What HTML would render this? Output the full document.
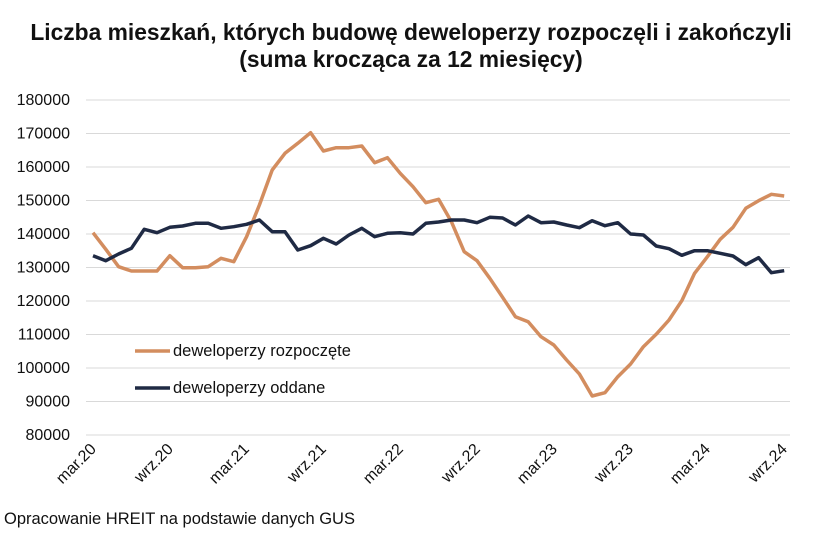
<!DOCTYPE html>
<html><head><meta charset="utf-8"><style>
body{margin:0;background:#fff;}
svg text{font-family:"Liberation Sans",sans-serif;fill:#111;}
</style></head><body>
<svg width="821" height="530" xmlns="http://www.w3.org/2000/svg">
<text x="411" y="40" text-anchor="middle" font-size="22.8" font-weight="bold">Liczba mieszkań, których budowę deweloperzy rozpoczęli i zakończyli</text>
<text x="411" y="67" text-anchor="middle" font-size="22.8" font-weight="bold">(suma krocząca za 12 miesięcy)</text>
<g stroke="#d9d9d9" stroke-width="1">
<line x1="86" x2="790" y1="100" y2="100"/><line x1="86" x2="790" y1="133.5" y2="133.5"/><line x1="86" x2="790" y1="167" y2="167"/><line x1="86" x2="790" y1="200.5" y2="200.5"/><line x1="86" x2="790" y1="234" y2="234"/><line x1="86" x2="790" y1="267.5" y2="267.5"/><line x1="86" x2="790" y1="301" y2="301"/><line x1="86" x2="790" y1="334.5" y2="334.5"/><line x1="86" x2="790" y1="368" y2="368"/><line x1="86" x2="790" y1="401.5" y2="401.5"/><line x1="86" x2="790" y1="435" y2="435"/>
</g>
<g font-size="16" text-anchor="end">
<text x="70" y="105">180000</text><text x="70" y="138.5">170000</text><text x="70" y="172">160000</text><text x="70" y="205.5">150000</text><text x="70" y="239">140000</text><text x="70" y="272.5">130000</text><text x="70" y="306">120000</text><text x="70" y="339.5">110000</text><text x="70" y="373">100000</text><text x="70" y="406.5">90000</text><text x="70" y="440">80000</text>
</g>
<g font-size="16" text-anchor="end">
<text transform="translate(97,450) rotate(-45)">mar.20</text>
<text transform="translate(174,450) rotate(-45)">wrz.20</text>
<text transform="translate(250,450) rotate(-45)">mar.21</text>
<text transform="translate(327,450) rotate(-45)">wrz.21</text>
<text transform="translate(404,450) rotate(-45)">mar.22</text>
<text transform="translate(481,450) rotate(-45)">wrz.22</text>
<text transform="translate(558,450) rotate(-45)">mar.23</text>
<text transform="translate(634,450) rotate(-45)">wrz.23</text>
<text transform="translate(711,450) rotate(-45)">mar.24</text>
<text transform="translate(788,450) rotate(-45)">wrz.24</text>
</g>
<polyline fill="none" stroke="#d38d5f" stroke-width="3.5" stroke-linejoin="round" points="93,232.7 105.8,249.3 118.6,266.7 131.4,271 144.2,271 157,271 169.8,255.7 182.6,267.7 195.4,267.7 208.2,266.7 221,258.3 233.8,261.7 246.6,236.7 259.4,205 272.2,170 285,153.3 297.8,143.3 310.6,132.7 323.4,151 336.2,147.7 349,147.7 361.8,146 374.6,162.7 387.4,157.7 400.2,173.3 413,186.7 425.8,202.7 438.6,199.3 451.4,221.7 464.2,251.7 477,260.7 489.8,278.3 502.6,297.3 515.4,316.7 528.2,321.7 541,336.7 553.8,345 566.6,360 579.4,374 592.2,396 605,392.7 617.8,376.7 630.6,364 643.4,346.7 656.2,334.3 669,320 681.8,300.7 694.6,273.3 707.4,256.7 720.2,239.3 733,227.3 745.8,208.3 758.6,200.7 771.4,194.3 784.2,196"/>
<polyline fill="none" stroke="#1f2a44" stroke-width="3.5" stroke-linejoin="round" points="93,255.7 105.8,260.7 118.6,254 131.4,248.3 144.2,229.3 157,232.7 169.8,227.3 182.6,226 195.4,223.3 208.2,223.3 221,228.3 233.8,226.7 246.6,224.3 259.4,220 272.2,231.7 285,231.7 297.8,250 310.6,245.7 323.4,238.3 336.2,244 349,235 361.8,228.3 374.6,236.7 387.4,233.3 400.2,232.7 413,234 425.8,223.3 438.6,222 451.4,220 464.2,220 477,222.7 489.8,217.3 502.6,218 515.4,225 528.2,216 541,222.7 553.8,222 566.6,225 579.4,227.7 592.2,220.7 605,225.7 617.8,222.7 630.6,234 643.4,235 656.2,246 669,248.7 681.8,255.3 694.6,250.7 707.4,250.7 720.2,253.3 733,256 745.8,264.7 758.6,257.7 771.4,272.7 784.2,270.7"/>
<line x1="135" x2="170" y1="351" y2="351" stroke="#d38d5f" stroke-width="3.5"/>
<text x="173" y="356" font-size="16.5">deweloperzy rozpoczęte</text>
<line x1="135" x2="170" y1="388" y2="388" stroke="#1f2a44" stroke-width="3.5"/>
<text x="173" y="393" font-size="16.5">deweloperzy oddane</text>
<text x="4" y="524" font-size="16.5">Opracowanie HREIT na podstawie danych GUS</text>
</svg>
</body></html>
